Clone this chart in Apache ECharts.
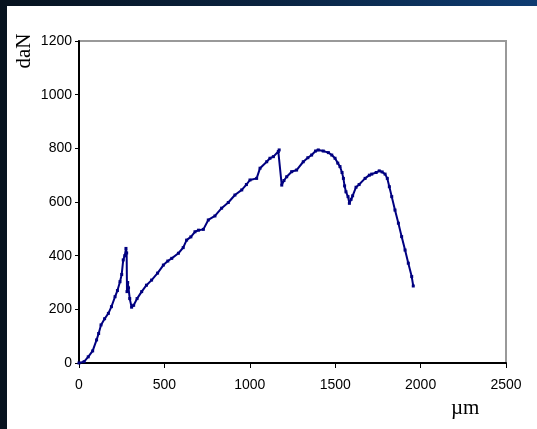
<!DOCTYPE html>
<html>
<head>
<meta charset="utf-8">
<script src="https://cdn.jsdelivr.net/npm/echarts@6/dist/echarts.min.js"></script>
<style>
html,body{margin:0;padding:0;width:537px;height:429px;overflow:hidden;
background:linear-gradient(90deg,#07131f 0%,#0a2340 50%,#0e3c72 100%);}
#c{position:absolute;left:0;top:0;width:537px;height:429px;}
</style>
</head>
<body>
<div id="c"></div>
<script>
// displacement (µm)
const xValues = [0,30,54,80,103,115,129,150,172,190,211,225,240,250,259,268,275,279,281,285,290,297,308,320,340,367,395,425,460,494,520,543,582,610,630,655,679,700,728,757,796,835,874,913,953,980,1001,1040,1060,1099,1118,1138,1167,1172,1187,1200,1216,1245,1274,1313,1340,1362,1385,1401,1430,1460,1480,1499,1515,1528,1540,1548,1555,1563,1575,1583,1593,1602,1622,1640,1675,1700,1714,1740,1758,1775,1792,1805,1817,1831,1850,1870,1889,1909,1928,1948,1957];
// force (daN)
const yValues = [0,5,23,45,86,110,142,165,185,210,247,270,303,330,384,400,427,410,266,300,280,240,208,215,240,266,290,309,335,365,380,390,409,430,458,470,489,495,498,533,548,577,598,626,645,665,682,688,726,750,763,769,788,794,663,680,694,713,719,750,765,775,790,794,790,784,775,763,745,732,710,688,660,638,620,595,610,623,655,665,688,700,704,710,716,712,704,688,657,620,570,521,471,421,372,322,287];
const xTicks = [0,500,1000,1500,2000,2500];
const yTicks = [0,200,400,600,800,1000,1200];
const xName = 'µm';
const yName = 'daN';

const data = xValues.map((x,i)=>[x,yValues[i]]);
const chart = echarts.init(document.getElementById('c'));
chart.setOption({
  backgroundColor:'transparent',
  animation:false,
  grid:{left:79,top:41,right:31,bottom:66,show:true,borderColor:'#999',borderWidth:2,backgroundColor:'#fff'},
  graphic:[
    {type:'rect',z:-10,shape:{x:7,y:6,width:530,height:423},style:{fill:'#fff'}},
    {type:'text',x:24,y:51,rotation:Math.PI/2,style:{text:yName,font:'21px "Liberation Serif", serif',fill:'#000',textAlign:'center',textVerticalAlign:'middle'}},
    {type:'text',left:451,top:398,style:{text:xName,font:'21px "Liberation Serif", serif',fill:'#000'}}
  ],
  xAxis:{type:'value',min:xTicks[0],max:xTicks[xTicks.length-1],interval:500,
    axisLine:{lineStyle:{color:'#000',width:2}},
    axisTick:{show:true,length:5,lineStyle:{color:'#000',width:1}},
    axisLabel:{color:'#000',fontFamily:'Liberation Sans, Arial',fontSize:14,margin:15,formatter:v=>String(v)},
    splitLine:{show:false}},
  yAxis:{type:'value',min:yTicks[0],max:yTicks[yTicks.length-1],interval:200,
    axisLine:{show:true,lineStyle:{color:'#000',width:2}},
    axisTick:{show:true,length:4,lineStyle:{color:'#000',width:1}},
    axisLabel:{color:'#000',fontFamily:'Liberation Sans, Arial',fontSize:14,margin:7,formatter:v=>String(v)},
    splitLine:{show:false}},
  series:[{type:'line',data:data,symbol:'rect',symbolSize:3,showSymbol:true,
    itemStyle:{color:'#000080'},lineStyle:{color:'#000080',width:2}}]
});
</script>
</body>
</html>
